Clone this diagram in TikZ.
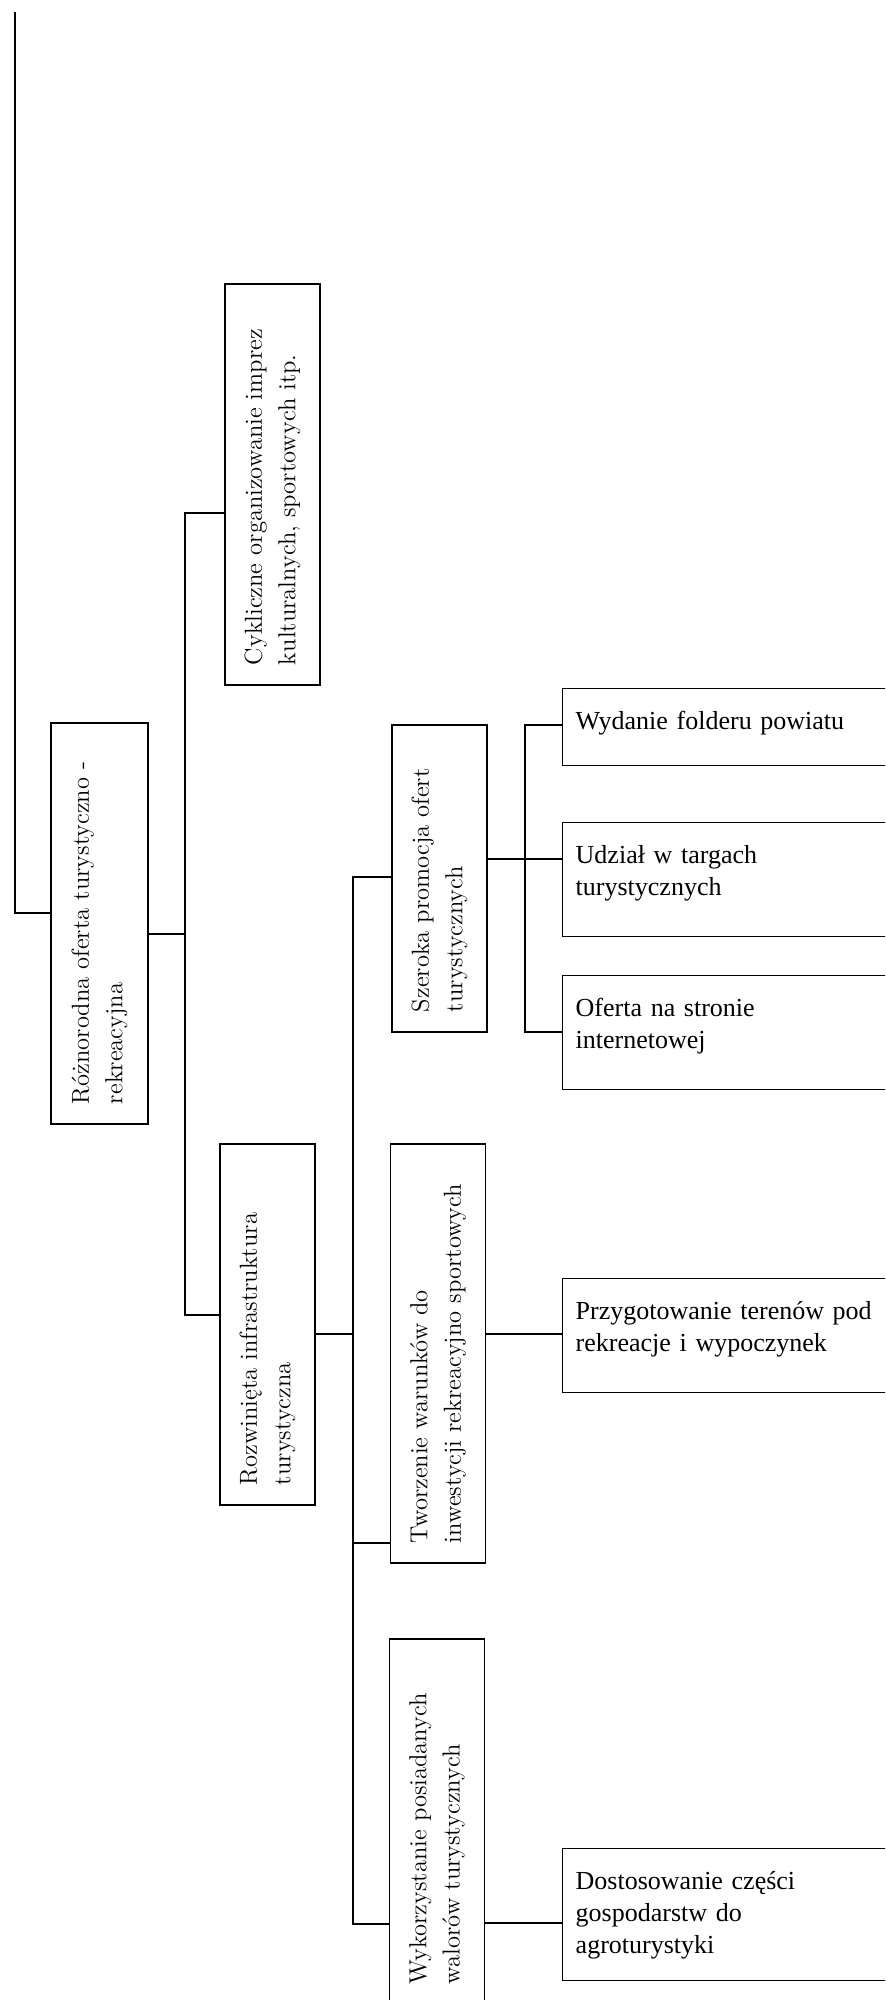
\documentclass[tikz,border=0pt]{standalone}
\usepackage{fontspec}
\usepackage{graphicx}
\newfontfamily\timesfont{Liberation Serif}
\newcommand{\hfont}{\timesfont\fontsize{13}{16}\selectfont}
\newcommand{\vfont}{\fontsize{12.3}{16.7}\selectfont}
\newcommand{\vlabel}[2]{\rotatebox{90}{\parbox{#1}{\vfont\raggedright #2}}}
\tikzstyle{vbox} = [draw, line width=0.7pt, inner sep=0pt, minimum width=47.5pt]
\tikzstyle{hbox} = [draw, line width=0.7pt, anchor=north west, inner xsep=6.5pt, inner ysep=0pt, text width=160pt, align=left, text height=20.5pt, font=\hfont]
\tikzstyle{link} = [line width=0.7pt]
\tikzstyle{trunk} = [line width=1.3pt]

\begin{document}
\begin{tikzpicture}[x=0.5pt, y=-0.5pt]
	\useasboundingbox (0,0) rectangle (885,2000);
	\clip (0,0) rectangle (885,2000);
	% upright boxes with turned text
	\node[vbox, minimum width=48.5pt, minimum height=200.5pt] (root) at (99.5,923.5) {\vlabel{180.5pt}{Różnorodna oferta turystyczno -\\rekreacyjna}};
	\node[vbox, minimum height=200.5pt] (cykl) at (272.5,484.5) {\vlabel{180.5pt}{Cykliczne organizowanie imprez\\kulturalnych, sportowych itp.}};
	\node[vbox, minimum height=180.5pt] (rozw) at (267.5,1324.5) {\vlabel{160.5pt}{Rozwinięta infrastruktura\\turystyczna}};
	\node[vbox, minimum height=153.5pt] (szer) at (439.5,878.5) {\vlabel{133.5pt}{Szeroka promocja ofert\\turystycznych}};
	\node[vbox, minimum height=209.5pt] (tworz) at (438,1353.5) {\vlabel{189.5pt}{Tworzenie warunków do\\inwestycji rekreacyjno sportowych}};
	\node[vbox, minimum height=182.5pt] (wyk) at (437,1821.5) {\vlabel{162.5pt}{Wykorzystanie posiadanych\\walorów turystycznych}};
	% boxes on the right
	\node[hbox, text depth=18pt] (wyd) at (562,687.5) {Wydanie folderu powiatu};
	\node[hbox, text depth=36.5pt] (udz) at (562,822) {Udział w targach\\turystycznych};
	\node[hbox, text depth=36.25pt] (ofe) at (562,975) {Oferta na stronie\\internetowej};
	\node[hbox, text depth=36.5pt] (przyg) at (562,1278) {Przygotowanie terenów pod\\rekreacje i wypoczynek};
	\node[hbox, text depth=45.5pt] (dost) at (562,1848) {Dostosowanie części\\gospodarstw do\\agroturystyki};
	% connectors
	\coordinate (top) at (15,12);
	\draw[trunk] (top) |- (root.west |- 0,913);
	\draw[link] (root.east |- 0,934) -- (185,934);
	\draw[link] (cykl.west |- 0,513) -| (185,1315) -- (rozw.west |- 0,1315);
	\draw[link] (rozw.east |- 0,1334) -- (353,1334);
	\draw[link] (szer.west |- 0,877) -| (353,1924) -- (wyk.west |- 0,1924);
	\draw[link] (353,1543) -- (tworz.west |- 0,1543);
	\draw[link] (szer.east |- 0,859) -- (udz.west |- 0,859);
	\draw[link] (wyd.west |- 0,725) -| (525,1032) -- (ofe.west |- 0,1032);
	\draw[link] (tworz.east |- 0,1334) -- (przyg.west |- 0,1334);
	\draw[link] (wyk.east |- 0,1923) -- (dost.west |- 0,1923);
\end{tikzpicture}
\end{document}
